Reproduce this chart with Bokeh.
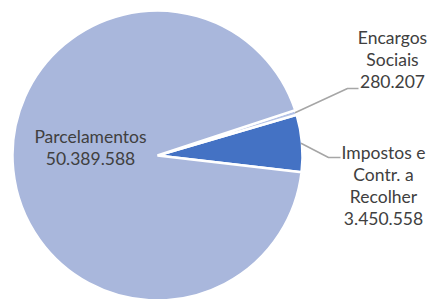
import numpy as np
from bokeh.plotting import figure
from bokeh.models import Range1d
from bokeh.core.properties import value
from bokeh.embed import file_html
from bokeh.resources import INLINE

# ---- data ----
categories = ["Impostos e\nContr. a\nRecolher", "Encargos\nSociais", "Parcelamentos"]
values = [3450558, 280207, 50389588]
colors = ["#4472C4", "#B4C2E6", "#A9B7DC"]

# ---- layout ----
W, H = 430, 299
cx, cy = 157, H - 155   # pie centre (data units == page px)
R = 145
start_deg = -6.6

p = figure(width=W, height=H, output_backend="svg", toolbar_location=None,
           x_range=Range1d(0, W), y_range=Range1d(0, H),
           min_border=0, outline_line_color=None)
p.axis.visible = False
p.grid.visible = False
p.background_fill_color = "white"

vals = np.array(values, dtype=float)
frac = vals / vals.sum()
ends = np.radians(start_deg) + np.cumsum(frac) * 2 * np.pi
starts = np.concatenate([[np.radians(start_deg)], ends[:-1]])
mids = (starts + ends) / 2

p.wedge(x=cx, y=cy, radius=R, start_angle=list(starts), end_angle=list(ends),
        fill_color=colors, line_color="white", line_width=2.5)

def fmt(v):
    return f"{v:,}".replace(",", ".")

FONT = value("Lato")
FS = "17.5px"
LH = 22
TXT = "#404040"
LINE = "#A6A6A6"

# label anchors (page coordinates of first line centre) and leader elbows
label_pos = {
    0: (383, 152),
    1: (392, 37),
    2: (90, 136),
}
elbows = {
    0: [(328, 157), (340, 157)],
    1: [(347, 88), (358, 88)],
}

tx, ty, tt = [], [], []
for i, cat in enumerate(categories):
    lines = cat.split("\n") + [fmt(values[i])]
    ax, ay = label_pos[i]
    for k, ln in enumerate(lines):
        tx.append(ax)
        ty.append(H - (ay + k * LH))
        tt.append(ln)

for i, pts in elbows.items():
    ex = cx + (R - 1) * np.cos(mids[i])
    ey = cy + (R - 1) * np.sin(mids[i])
    xs = [ex] + [q[0] for q in pts]
    ys = [ey] + [H - q[1] for q in pts]
    p.line(xs, ys, line_color=LINE, line_width=1.5)

p.text(x=tx, y=ty, text=tt, text_font=FONT, text_font_size=FS,
       text_color=TXT, text_align="center", text_baseline="middle")

open("out.html", "w").write(file_html(p, INLINE))
